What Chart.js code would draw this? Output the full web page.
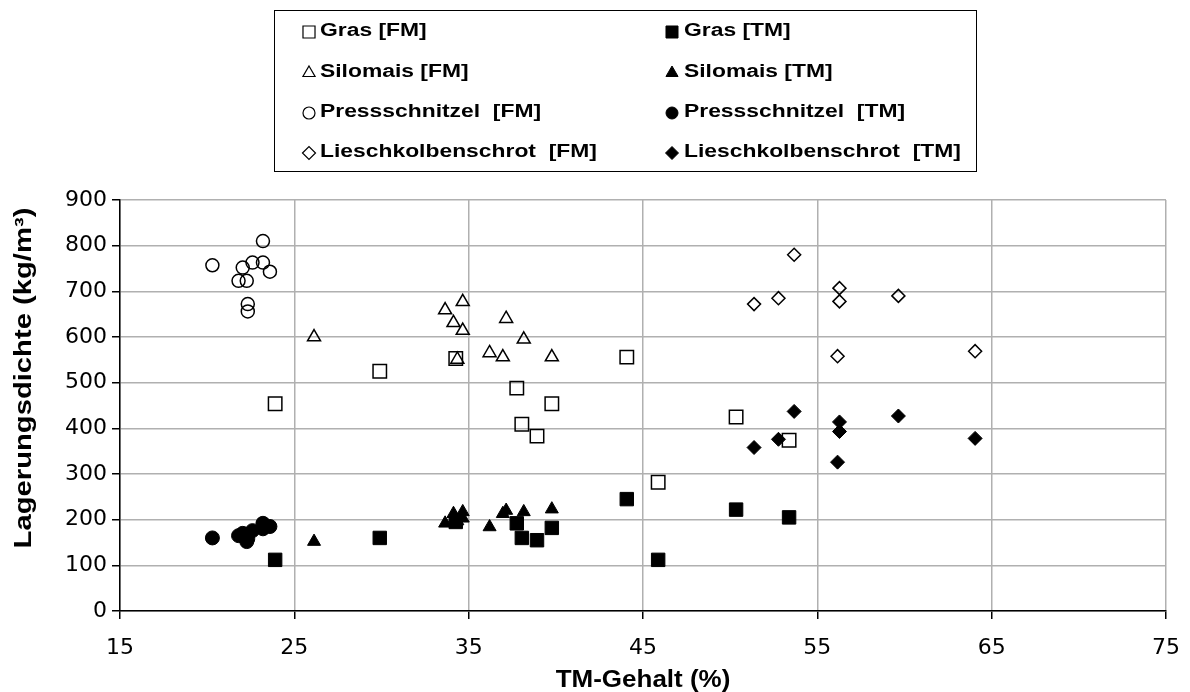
<!DOCTYPE html>
<html>
<head>
<meta charset="utf-8">
<script src="https://cdn.jsdelivr.net/npm/chart.js@4/dist/chart.umd.min.js"></script>
<style>
html,body{margin:0;padding:0;background:#fff;}
#wrap{position:relative;width:1190px;height:692px;}
</style>
</head>
<body>
<div id="wrap"><canvas id="c" width="1190" height="692"></canvas></div>
<script>
// ---- data ----
const xTicks = [15, 25, 35, 45, 55, 65, 75];
const yTicks = [0, 100, 200, 300, 400, 500, 600, 700, 800, 900];
const xTitle = "TM-Gehalt (%)";
const yTitle = "Lagerungsdichte (kg/m³)";
const seriesNames = ["Gras [FM]", "Gras [TM]", "Silomais [FM]", "Silomais [TM]",
  "Pressschnitzel  [FM]", "Pressschnitzel  [TM]", "Lieschkolbenschrot  [FM]", "Lieschkolbenschrot  [TM]"];

const grasX = [23.9, 29.9, 34.26, 37.76, 38.05, 38.92, 39.77, 44.07, 45.87, 50.34, 53.38];
const grasFM = [454, 525, 553, 488, 409, 383, 454, 556, 282, 425, 374];
const grasTM = [112, 160, 195, 192, 160, 155, 182, 245, 112, 222, 205];

const siloX = [26.13, 33.65, 34.13, 34.35, 34.66, 34.66, 36.2, 36.96, 37.15, 38.16, 39.77];
const siloFM = [600, 659, 631, 551, 677, 614, 565, 556, 640, 595, 556];
const siloTM = [152, 192, 213, 197, 217, 203, 184, 213, 220, 217, 223];

const pressX = [20.3, 21.8, 22.04, 22.27, 22.33, 22.33, 22.6, 23.2, 23.2, 23.6];
const pressFM = [757, 723, 752, 723, 672, 656, 763, 810, 763, 743];
const pressTM = [160, 165, 170, 152, 158, 168, 176, 192, 180, 185];

const lieschX = [51.37, 52.77, 53.67, 56.16, 56.27, 56.27, 59.65, 64.05];
const lieschFM = [672, 685, 780, 558, 707, 678, 690, 569];
const lieschTM = [358, 376, 437, 326, 414, 393, 427, 378];

// ---- build ----
const pts = (xs, ys) => xs.map((x, i) => ({x: x, y: ys[i]}));
const FONT = "'Liberation Sans', Arial, sans-serif";
const TICKFONT = "'DejaVu Sans', 'Liberation Sans', sans-serif";
const open = 'rgba(0,0,0,0)';
function ds(label, data, style, filled, r) {
  return {label, data, pointStyle: style, pointRadius: r, pointHoverRadius: r,
    backgroundColor: filled ? '#000' : open, borderColor: '#000',
    pointBorderWidth: filled ? 1 : 1.5, showLine: false};
}
const datasets = [
  ds(seriesNames[0], pts(grasX, grasFM), 'rect', false, 9.5),
  ds(seriesNames[1], pts(grasX, grasTM), 'rect', true, 9.5),
  ds(seriesNames[2], pts(siloX, siloFM), 'triangle', false, 7.5),
  ds(seriesNames[3], pts(siloX, siloTM), 'triangle', true, 7.5),
  ds(seriesNames[4], pts(pressX, pressFM), 'circle', false, 6.5),
  ds(seriesNames[5], pts(pressX, pressTM), 'circle', true, 7),
  ds(seriesNames[6], pts(lieschX, lieschFM), 'rectRot', false, 6.5),
  ds(seriesNames[7], pts(lieschX, lieschTM), 'rectRot', true, 7),
];

// draw text horizontally stretched (the reference glyphs are wide)
function wideText(ctx, txt, x, y, sx) {
  ctx.save();
  ctx.translate(x, y);
  ctx.scale(sx, 1);
  ctx.fillText(txt, 0, 0);
  ctx.restore();
}

const legendPlugin = {
  id: 'boxLegend',
  afterDraw(chart) {
    const ctx = chart.ctx;
    ctx.save();
    ctx.strokeStyle = '#000';
    ctx.lineWidth = 1;
    ctx.strokeRect(274.5, 10.5, 702, 161);
    ctx.font = "bold 18px " + FONT;
    ctx.textBaseline = 'middle';
    ctx.textAlign = 'left';
    const rows = [31, 72, 112, 152];
    const cols = [{m: 309, t: 320}, {m: 672, t: 684}];
    const sizes = {rect: 8.5, triangle: 7, circle: 6, rectRot: 6.5};
    chart.data.datasets.forEach((d, i) => {
      const row = Math.floor(i / 2), col = i % 2;
      const y = rows[row];
      const c = cols[col];
      ctx.fillStyle = d.backgroundColor;
      ctx.strokeStyle = '#000';
      ctx.lineWidth = d.backgroundColor === open ? 1.2 : 1;
      Chart.helpers.drawPoint(ctx, {pointStyle: d.pointStyle, radius: sizes[d.pointStyle], borderWidth: ctx.lineWidth}, c.m, y + 1);
      ctx.fillStyle = '#000';
      wideText(ctx, d.label, c.t, y, 1.27);
    });
    ctx.restore();
  }
};

const titlePlugin = {
  id: 'axisTitles',
  afterDraw(chart) {
    const ctx = chart.ctx;
    const a = chart.chartArea;
    ctx.save();
    ctx.fillStyle = '#000';
    ctx.font = "bold 23px " + FONT;
    ctx.textAlign = 'center';
    ctx.textBaseline = 'middle';
    wideText(ctx, xTitle, (a.left + a.right) / 2, 681, 1.13);
    ctx.translate(25, 378);
    ctx.rotate(-Math.PI / 2);
    wideText(ctx, yTitle, 0, 0, 1.27);
    ctx.restore();
  }
};

new Chart(document.getElementById('c'), {
  type: 'scatter',
  data: {datasets},
  options: {
    responsive: false,
    animation: false,
    devicePixelRatio: 1,
    layout: {padding: {top: 200, right: 24, bottom: 0, left: 0}},
    plugins: {legend: {display: false}, tooltip: {enabled: false}},
    scales: {
      x: {
        type: 'linear', min: xTicks[0], max: xTicks[xTicks.length - 1],
        afterBuildTicks: s => { s.ticks = xTicks.map(v => ({value: v})); },
        afterFit: s => { s.height = 81; s.paddingLeft = 0; s.paddingRight = 0; },
        grid: {color: '#b0b0b0', lineWidth: 1.5, tickColor: '#000', tickLength: 8, drawTicks: true},
        border: {color: '#000', width: 1.5},
        ticks: {color: '#000', font: {family: TICKFONT, size: 22}, padding: 16, maxRotation: 0}
      },
      y: {
        type: 'linear', min: yTicks[0], max: yTicks[yTicks.length - 1],
        afterBuildTicks: s => { s.ticks = yTicks.map(v => ({value: v})); },
        afterFit: s => { s.width = 120; s.paddingTop = 0; s.paddingBottom = 0; },
        grid: {color: '#b0b0b0', lineWidth: 1.5, tickColor: '#000', tickLength: 8, drawTicks: true},
        border: {color: '#000', width: 1.5},
        ticks: {color: '#000', font: {family: TICKFONT, size: 22}, padding: 5}
      }
    }
  },
  plugins: [legendPlugin, titlePlugin]
});
</script>
</body>
</html>
